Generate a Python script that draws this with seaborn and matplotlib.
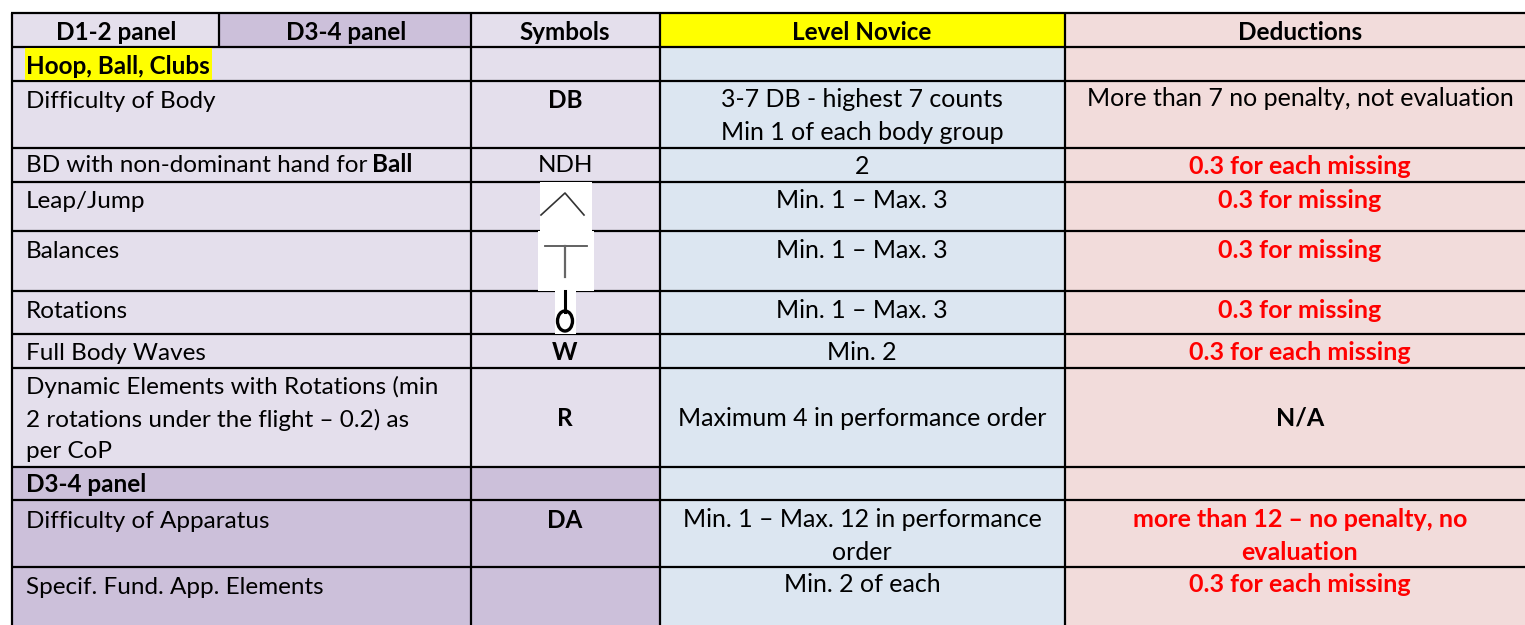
import numpy as np
import seaborn as sns
import matplotlib.pyplot as plt
from matplotlib.colors import ListedColormap
from matplotlib.patches import Rectangle, Ellipse

plt.rcParams['font.family'] = ['Lato', 'DejaVu Sans']

# Table grid, in pixels of the picture
col_edges = [0, 12, 219, 471, 660, 1065, 1525]
row_edges = [0, 13, 47, 81, 148, 182, 231, 291, 334, 368, 467, 500, 567, 625]

# Colours
colours = ['#FFFFFF', '#E4DFEC', '#CCC0DA', '#DCE6F1', '#F2DCDB', '#FFFF00']
W, L, P, B, R, Y = 0, 1, 2, 3, 4, 5

# One row of codes per table row, one code per column
cell_codes = [
    [W, W, W, W, W, W],
    [W, L, P, L, Y, R],
    [W, L, L, L, B, R],
    [W, L, L, L, B, R],
    [W, L, L, L, B, R],
    [W, L, L, L, B, R],
    [W, L, L, L, B, R],
    [W, L, L, L, B, R],
    [W, L, L, L, B, R],
    [W, L, L, L, B, R],
    [W, P, P, P, B, R],
    [W, P, P, P, B, R],
    [W, P, P, P, B, R],
]

header = ['D1-2 panel', 'D3-4 panel', 'Symbols', 'Level Novice', 'Deductions']

skills = ['Difficulty of Body', 'Leap/Jump', 'Balances',
          'Rotations', 'Full Body Waves',
          'Dynamic Elements with Rotations (min\n2 rotations under the flight – 0.2) as\nper CoP',
          'Difficulty of Apparatus', 'Specif. Fund. App. Elements']
skill_y = [101, 201, 251, 311, 353, 419, 521, 587]

symbols = ['DB', 'NDH', 'W', 'R', 'DA']
symbol_y = [100, 166, 352, 419, 520]
symbol_bold = [True, False, True, True, True]

levels = ['3-7 DB - highest 7 counts\nMin 1 of each body group', '2', 'Min. 1 – Max. 3',
          'Min. 1 – Max. 3', 'Min. 1 – Max. 3', 'Min. 2', 'Maximum 4 in performance order',
          'Min. 1 – Max. 12 in performance\norder', 'Min. 2 of each']
level_y = [116, 166, 200, 250, 310, 352, 418, 536, 585]

deductions = ['More than 7 no penalty, not evaluation', '0.3 for each missing', '0.3 for missing',
              '0.3 for missing', '0.3 for missing', '0.3 for each missing', 'N/A',
              'more than 12 – no penalty, no\nevaluation', '0.3 for each missing']
deduction_y = [99, 166, 200, 250, 310, 352, 418, 536, 585]
deduction_colour = ['black', 'red', 'red', 'red', 'red', 'red', 'black', 'red', 'red']
deduction_bold = [False, True, True, True, True, True, True, True, True]

font_px = 18
left_px = 17.5
spacing = 1.5

# Paint the cells as a heatmap, one data unit per pixel
matrix = np.repeat(np.repeat(np.array(cell_codes), np.diff(row_edges), axis=0),
                   np.diff(col_edges), axis=1)

fig = plt.figure(figsize=(15.25, 6.25), dpi=100)
ax = fig.add_axes([0, 0, 1, 1])
sns.heatmap(matrix, cmap=ListedColormap(colours), vmin=0, vmax=5, cbar=False,
            xticklabels=False, yticklabels=False, ax=ax)
ax.set_xlim(0, 1525)
ax.set_ylim(625, 0)

# Grid lines
ax.hlines(row_edges[1:-1], 11, 1525, color='black', lw=1.6, zorder=2)
ax.vlines([12, 471, 660, 1065], 13, 625, color='black', lw=1.6, zorder=2)
ax.vlines(219, 13, 47, color='black', lw=1.6, zorder=2)

# Header
header_x = [116, 346, 565, 862, 1300]
for x, t in zip(header_x, header):
    ax.text(x, 32, t, ha='center', va='center', fontsize=left_px, fontweight='bold', zorder=5)

# Section titles
ax.add_patch(Rectangle((25, 48), 187, 32, color='#FFFF00', lw=0, zorder=3))
ax.text(26, 66, 'Hoop, Ball, Clubs', va='center', fontsize=left_px, fontweight='bold', zorder=5)
ax.text(26, 485, 'D3-4 panel', va='center', fontsize=left_px, fontweight='bold', zorder=5)

# Body of the table
for t, y in zip(skills, skill_y):
    ls = 1.58 if t.startswith('Dynamic') else spacing
    ax.text(26, y, t, va='center', fontsize=left_px, linespacing=ls, zorder=5)

# Mixed weight line, both parts on one baseline
bd = ax.text(26, 172, 'BD with non-dominant hand for', va='baseline', fontsize=left_px, zorder=5)
fig.canvas.draw()
bd_end = ax.transData.inverted().transform(bd.get_window_extent().p1)[0]
ax.text(bd_end + 5, 172, 'Ball', va='baseline', fontsize=left_px, fontweight='bold', zorder=5)

for t, y, b in zip(symbols, symbol_y, symbol_bold):
    ax.text(565, y, t, ha='center', va='center', fontsize=left_px,
            fontweight='bold' if b else 'normal', zorder=5)
for t, y in zip(levels, level_y):
    ax.text(862, y, t, ha='center', va='center', fontsize=font_px, linespacing=spacing, zorder=5)
for t, y, c, b in zip(deductions, deduction_y, deduction_colour, deduction_bold):
    ax.text(1300, y, t, ha='center', va='center', fontsize=font_px, color=c, linespacing=spacing,
            fontweight='bold' if b else 'normal', zorder=5)

# Symbol pictures on white patches
for x, y, w, h in [(540, 182, 52, 49), (538, 231, 56, 60), (555, 291, 21, 43)]:
    ax.add_patch(Rectangle((x, y), w, h, color='white', lw=0, zorder=3))
ax.plot([541, 565, 584], [215, 193, 215], color='#333333', lw=1.2, zorder=4)
ax.plot([545, 587], [246, 246], color='#555555', lw=1.3, zorder=4)
ax.plot([564.5, 564.5], [246, 277], color='#666666', lw=1.6, zorder=4)
ax.plot([565, 565], [291, 312], color='black', lw=2.2, zorder=4)
ax.add_patch(Ellipse((565, 321), 15, 20, fill=False, ec='black', lw=2.4, zorder=4))

fig.savefig('out.png', dpi=100)
